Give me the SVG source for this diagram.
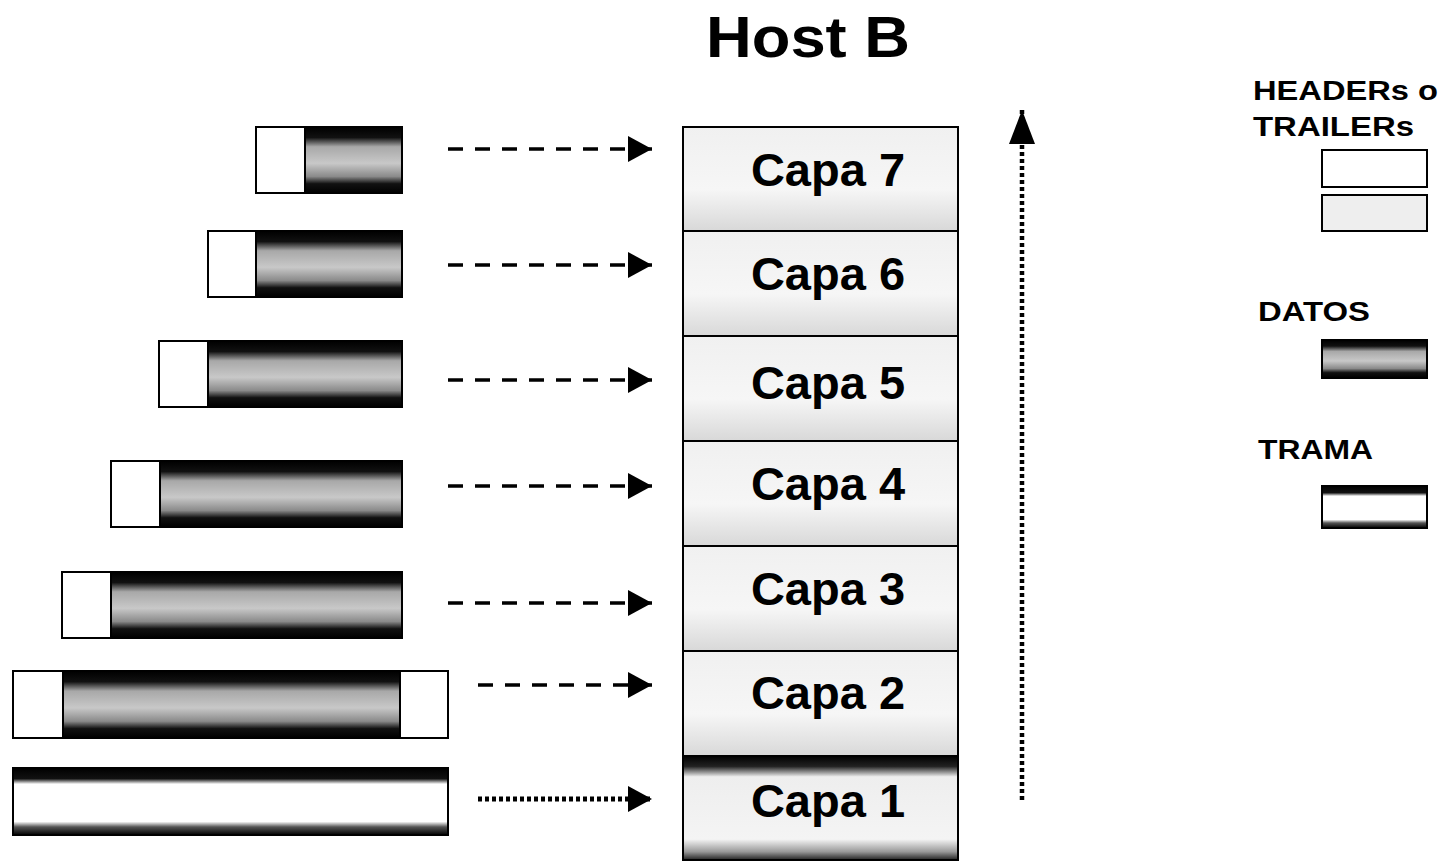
<svg xmlns="http://www.w3.org/2000/svg" width="1445" height="862" viewBox="0 0 1445 862">
<defs>
<linearGradient id="data" x1="0" y1="0" x2="0" y2="1">
<stop offset="0" stop-color="#000"/>
<stop offset="0.16" stop-color="#111"/>
<stop offset="0.3" stop-color="#a8a8a8"/>
<stop offset="0.55" stop-color="#c8c8c8"/>
<stop offset="0.75" stop-color="#8a8a8a"/>
<stop offset="0.86" stop-color="#111"/>
<stop offset="1" stop-color="#000"/>
</linearGradient>
<linearGradient id="trama" x1="0" y1="0" x2="0" y2="1">
<stop offset="0" stop-color="#000"/>
<stop offset="0.16" stop-color="#111"/>
<stop offset="0.24" stop-color="#fff"/>
<stop offset="0.8" stop-color="#fff"/>
<stop offset="0.88" stop-color="#555"/>
<stop offset="1" stop-color="#000"/>
</linearGradient>
<linearGradient id="layer" x1="0" y1="0" x2="0" y2="1">
<stop offset="0" stop-color="#f0f0f0"/>
<stop offset="0.6" stop-color="#f6f6f6"/>
<stop offset="1" stop-color="#d8d8d8"/>
</linearGradient>
<linearGradient id="layer1" x1="0" y1="0" x2="0" y2="1">
<stop offset="0" stop-color="#000"/>
<stop offset="0.1" stop-color="#222"/>
<stop offset="0.2" stop-color="#eee"/>
<stop offset="0.8" stop-color="#f4f4f4"/>
<stop offset="0.92" stop-color="#999"/>
<stop offset="1" stop-color="#222"/>
</linearGradient>
<marker id="ah" viewBox="0 0 24 26" refX="24" refY="13" markerWidth="24" markerHeight="26" markerUnits="userSpaceOnUse" orient="auto">
<path d="M0,0 L24,13 L0,26 Z" fill="#000"/>
</marker>
<marker id="ahv" viewBox="0 0 34 26" refX="34" refY="13" markerWidth="34" markerHeight="26" markerUnits="userSpaceOnUse" orient="auto">
<path d="M0,0 L34,13 L0,26 Z" fill="#000"/>
</marker>
</defs>
<style>
.t{font-family:"Liberation Sans",Arial,sans-serif;font-weight:bold;fill:#000}
.hdr{fill:#fff;stroke:#000;stroke-width:2}
.dat{fill:url(#data);stroke:#000;stroke-width:2}
.lay{fill:url(#layer);stroke:#000;stroke-width:2}
.capa{font-size:47px;text-anchor:middle}
.leg{font-size:27px}
.dash{stroke:#000;stroke-width:3.5;fill:none;stroke-dasharray:15 12;marker-end:url(#ah)}
.dot{stroke:#000;stroke-width:5;fill:none;stroke-dasharray:4 3;marker-end:url(#ah)}
</style>
<rect width="1445" height="862" fill="#fff"/>
<text class="t" x="706" y="57" font-size="58" textLength="204" lengthAdjust="spacingAndGlyphs">Host B</text>

<g id="frame7"><rect class="dat" x="256" y="127" width="146" height="66"/><rect class="hdr" x="256" y="127" width="49" height="66"/></g>
<g id="frame6"><rect class="dat" x="208" y="231" width="194" height="66"/><rect class="hdr" x="208" y="231" width="48" height="66"/></g>
<g id="frame5"><rect class="dat" x="159" y="341" width="243" height="66"/><rect class="hdr" x="159" y="341" width="49" height="66"/></g>
<g id="frame4"><rect class="dat" x="111" y="461" width="291" height="66"/><rect class="hdr" x="111" y="461" width="49" height="66"/></g>
<g id="frame3"><rect class="dat" x="62" y="572" width="340" height="66"/><rect class="hdr" x="62" y="572" width="49" height="66"/></g>
<g id="frame2"><rect class="dat" x="13" y="671" width="435" height="67"/><rect class="hdr" x="13" y="671" width="50" height="67"/><rect class="hdr" x="400" y="671" width="48" height="67"/></g>
<g id="frame1"><rect x="13" y="768" width="435" height="67" fill="url(#trama)" stroke="#000" stroke-width="2"/></g>

<g id="capa7"><rect class="lay" x="683" y="127" width="275" height="104"/><text class="t capa" x="828" y="186">Capa 7</text></g>
<g id="capa6"><rect class="lay" x="683" y="231" width="275" height="105"/><text class="t capa" x="828" y="290">Capa 6</text></g>
<g id="capa5"><rect class="lay" x="683" y="336" width="275" height="105"/><text class="t capa" x="828" y="399">Capa 5</text></g>
<g id="capa4"><rect class="lay" x="683" y="441" width="275" height="105"/><text class="t capa" x="828" y="500">Capa 4</text></g>
<g id="capa3"><rect class="lay" x="683" y="546" width="275" height="105"/><text class="t capa" x="828" y="605">Capa 3</text></g>
<g id="capa2"><rect class="lay" x="683" y="651" width="275" height="105"/><text class="t capa" x="828" y="709">Capa 2</text></g>
<g id="capa1"><rect x="683" y="756" width="275" height="104" fill="url(#layer1)" stroke="#000" stroke-width="2"/><text class="t capa" x="828" y="817">Capa 1</text></g>

<g id="connectors">
<line class="dash" x1="448" y1="149" x2="652" y2="149"/>
<line class="dash" x1="448" y1="265" x2="652" y2="265"/>
<line class="dash" x1="448" y1="380" x2="652" y2="380"/>
<line class="dash" x1="448" y1="486" x2="652" y2="486"/>
<line class="dash" x1="448" y1="603" x2="652" y2="603"/>
<line class="dash" x1="478" y1="685" x2="652" y2="685"/>
<line class="dot" x1="478" y1="799" x2="652" y2="799"/>
<line x1="1022" y1="800" x2="1022" y2="110" stroke="#000" stroke-width="4.5" stroke-dasharray="4 3" marker-end="url(#ahv)"/>
</g>

<g id="legend">
<text class="t leg" x="1253" y="100" textLength="185" lengthAdjust="spacingAndGlyphs">HEADERs o</text>
<text class="t leg" x="1253" y="136" textLength="161" lengthAdjust="spacingAndGlyphs">TRAILERs</text>
<rect class="hdr" x="1322" y="150" width="105" height="37"/>
<rect x="1322" y="195" width="105" height="36" fill="#eee" stroke="#000" stroke-width="2"/>
<text class="t leg" x="1258" y="321" textLength="112" lengthAdjust="spacingAndGlyphs">DATOS</text>
<rect class="dat" x="1322" y="340" width="105" height="38"/>
<text class="t leg" x="1258" y="459" textLength="115" lengthAdjust="spacingAndGlyphs">TRAMA</text>
<rect x="1322" y="486" width="105" height="42" fill="url(#trama)" stroke="#000" stroke-width="2"/>
</g>
</svg>
